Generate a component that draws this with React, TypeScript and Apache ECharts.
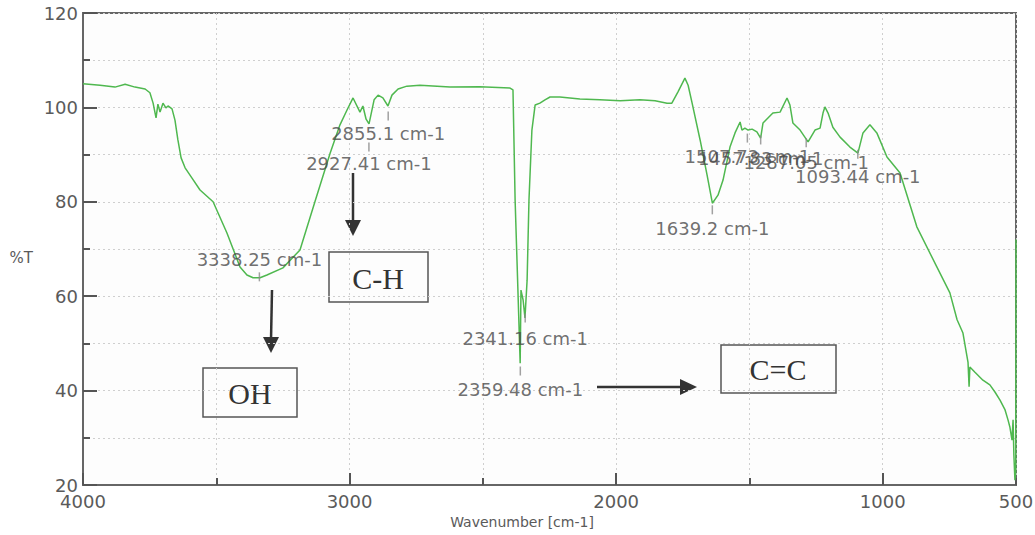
import React, { useEffect, useRef } from "react";
import * as echarts from "echarts";

// Spectrum trace (wavenumber in cm-1, transmittance in %T)
const spectrumWn = [
  4000, 3936, 3880, 3842, 3805, 3767, 3749, 3737, 3726, 3719, 3711, 3700, 3689, 3681, 3666, 3655,
  3644, 3632, 3617, 3591, 3561, 3512, 3460, 3411, 3385, 3362, 3336, 3310, 3250, 3186, 3130, 3073,
  3036, 3010, 2987, 2961, 2950, 2938, 2927, 2908, 2893, 2875, 2856, 2841, 2818, 2785, 2736, 2623,
  2511, 2398, 2387, 2379, 2372, 2360, 2357, 2349, 2342, 2334, 2327, 2316, 2304, 2286, 2267, 2248,
  2211, 2136, 2061, 1985, 1911, 1854, 1809, 1791, 1768, 1742, 1730, 1715, 1685, 1659, 1639, 1618,
  1599, 1573, 1554, 1535, 1528, 1517, 1505, 1490, 1472, 1458, 1449, 1412, 1385, 1359, 1348, 1337,
  1310, 1280, 1254, 1235, 1224, 1217, 1205, 1187, 1160, 1123, 1093, 1074, 1048, 1022, 984, 935,
  872, 797, 748, 721, 699, 680, 676, 673, 654, 624, 598, 579, 560, 541, 530, 523,
  515, 511, 508, 504, 501, 500,
];
const spectrumT = [
  105.0, 104.7, 104.3, 104.9, 104.3, 103.9, 103.1, 100.9, 97.8, 100.7, 99.0, 100.9, 99.9, 100.3, 99.7, 97.3,
  93.1, 89.3, 87.2, 85.0, 82.5, 80.0, 73.4, 66.2, 64.5, 63.9, 63.9, 64.5, 66.0, 69.8, 80.0, 90.3,
  96.3, 99.4, 102.0, 99.0, 100.3, 97.5, 96.5, 101.6, 102.6, 102.0, 100.3, 102.6, 103.9, 104.5, 104.7, 104.3,
  104.4, 104.1, 103.7, 80.4, 67.7, 45.8, 61.3, 59.2, 55.4, 63.4, 80.4, 95.2, 100.5, 100.9, 101.6, 102.2,
  102.2, 101.8, 101.6, 101.4, 101.6, 101.4, 100.9, 100.9, 103.3, 106.2, 104.7, 100.9, 93.1, 85.7, 79.7, 81.4,
  84.6, 91.6, 94.6, 96.9, 95.2, 95.6, 95.2, 95.4, 94.8, 93.5, 96.7, 98.8, 99.0, 102.0, 100.5, 96.7,
  95.2, 92.7, 95.2, 95.6, 98.8, 100.1, 98.8, 95.8, 93.7, 91.6, 90.3, 94.6, 96.3, 94.6, 89.5, 86.1,
  74.7, 66.2, 60.7, 55.0, 52.2, 46.0, 40.8, 45.0, 43.9, 42.2, 41.2, 39.7, 38.0, 35.9, 33.8, 32.3,
  29.5, 33.8, 26.4, 21.0, 23.0, 72.0,
];

// Peak picks
const peakWn = [3338.25, 2927.41, 2855.1, 2359.48, 2341.16, 1639.2, 1507.73, 1457.83, 1287.05, 1093.44];
const peakT = [64.1, 91.6, 98.2, 44.15, 55.4, 78.3, 93.5, 93.1, 92.5, 90.1];
const peakLabels = [
  "3338.25 cm-1", "2927.41 cm-1", "2855.1 cm-1", "2359.48 cm-1", "2341.16 cm-1",
  "1639.2 cm-1", "1507.73 cm-1", "1457.83 cm-1", "1287.05 cm-1", "1093.44 cm-1",
];
const peakLabelSide = ["top", "bottom", "bottom", "bottom", "bottom", "bottom", "bottom", "bottom", "bottom", "bottom"];
const peakLabelGap = [3, 2, 3, 4, 6, 4, 4, 4, 5, 8];

// Axis ticks
const xLabelValues = [4000, 3000, 2000, 1000, 500];
const xMajorTicks = [4000, 3000, 2000, 1000];

// Functional group annotations
const groupNames = ["OH", "C-H", "C=C"];

const GRAY = "#5a5a5a";
const SANS = "'DejaVu Sans', Verdana, sans-serif";
const SERIF = "'Liberation Serif', 'Times New Roman', serif";

export default function App() {
  const ref = useRef<HTMLDivElement>(null);

  useEffect(() => {
    if (!ref.current) return;
    const chart = echarts.init(ref.current, undefined, { renderer: "svg" });

    const lineData = spectrumWn.map((w, i) => [w, spectrumT[i]]);
    const peakData = peakWn.map((w, i) => ({
      value: [w, peakT[i]],
      label: {
        show: true,
        position: peakLabelSide[i],
        distance: peakLabelGap[i],
        formatter: peakLabels[i],
      },
    }));

    const boxStyle = { fill: "rgba(255,255,255,0)", stroke: "#555", lineWidth: 1.5 };
    const arrowLine = { stroke: "#333", lineWidth: 2.5 };
    const arrowHead = { fill: "#333" };
    const boxText = (x: number, y: number, t: string) => ({
      type: "text",
      x,
      y,
      style: {
        text: t,
        fill: "#333",
        font: `30px ${SERIF}`,
        textAlign: "center",
        textVerticalAlign: "middle",
      },
    });

    chart.setOption({
      animation: false,
      backgroundColor: "#ffffff",
      grid: {
        left: 83,
        right: 19,
        top: 13,
        bottom: 50,
        containLabel: false,
        outerBoundsMode: "none",
        show: true,
        borderColor: "#666",
        borderWidth: 2,
        backgroundColor: "#fdfdfd",
      },
      xAxis: [
        {
          type: "value",
          min: 500,
          max: 4000,
          interval: 500,
          inverse: true,
          name: "Wavenumber [cm-1]",
          nameLocation: "middle",
          nameGap: 28,
          nameTextStyle: {
            fontFamily: SANS,
            fontSize: 14,
            color: GRAY,
            padding: [0, 55, 0, 0],
          },
          axisLine: { show: true, lineStyle: { color: "#666", width: 2 } },
          axisTick: { show: true, inside: true, length: 7, lineStyle: { color: "#555", width: 2 } },
          axisLabel: {
            fontFamily: SANS,
            fontSize: 18,
            color: GRAY,
            margin: 7,
            formatter: (v: number) => (xLabelValues.includes(v) ? String(v) : ""),
          },
          splitLine: { show: true, lineStyle: { color: "#cfcfcf", type: [2, 3], width: 1 } },
        },
        {
          type: "value",
          min: 500,
          max: 4000,
          inverse: true,
          position: "bottom",
          axisLine: { show: false },
          axisLabel: { show: false },
          splitLine: { show: false },
          axisTick: {
            show: true,
            inside: true,
            length: 12,
            customValues: xMajorTicks,
            lineStyle: { color: "#555", width: 2 },
          },
        },
      ],
      yAxis: {
        type: "value",
        min: 20,
        max: 120,
        interval: 20,
        name: "%T",
        nameLocation: "middle",
        nameRotate: 0,
        nameGap: 50,
        nameTextStyle: {
          fontFamily: SANS,
          fontSize: 15,
          color: GRAY,
          verticalAlign: "top",
          lineHeight: 18,
        },
        axisLine: { show: true, lineStyle: { color: "#666", width: 2 } },
        axisTick: { show: true, inside: true, length: 14, lineStyle: { color: "#555", width: 2 } },
        minorTick: { show: true, splitNumber: 2, length: 7, lineStyle: { color: "#555", width: 2 } },
        axisLabel: { fontFamily: SANS, fontSize: 18, color: GRAY, margin: 5 },
        splitLine: { show: true, lineStyle: { color: "#cfcfcf", type: [2, 3], width: 1 } },
        minorSplitLine: { show: true, lineStyle: { color: "#cfcfcf", type: [2, 3], width: 1 } },
      },
      series: [
        {
          type: "line",
          name: "spectrum",
          data: lineData,
          showSymbol: false,
          symbol: "none",
          lineStyle: { color: "#4fb84f", width: 1.5 },
          z: 3,
        },
        {
          type: "scatter",
          name: "peaks",
          data: peakData,
          symbol: "rect",
          symbolSize: [1.5, 9],
          itemStyle: { color: "#8a8a8a" },
          label: {
            fontFamily: SANS,
            fontSize: 18,
            lineHeight: 20,
            color: "#4a4a4a",
          },
          z: 4,
        },
      ],
      graphic: [
        // OH
        { type: "rect", shape: { x: 203, y: 368, width: 94, height: 49 }, style: boxStyle },
        boxText(250, 393, groupNames[0]),
        { type: "line", shape: { x1: 272, y1: 290, x2: 271, y2: 340 }, style: arrowLine },
        { type: "polygon", shape: { points: [[263, 337], [279, 337], [271, 353]] }, style: arrowHead },
        // C-H
        { type: "rect", shape: { x: 329, y: 252, width: 99, height: 50 }, style: boxStyle },
        boxText(378, 278, groupNames[1]),
        { type: "line", shape: { x1: 353, y1: 173, x2: 353, y2: 222 }, style: arrowLine },
        { type: "polygon", shape: { points: [[345, 220], [361, 220], [353, 236]] }, style: arrowHead },
        // C=C
        { type: "rect", shape: { x: 721, y: 345, width: 115, height: 48 }, style: boxStyle },
        boxText(778, 369, groupNames[2]),
        { type: "line", shape: { x1: 597, y1: 387, x2: 682, y2: 387 }, style: arrowLine },
        { type: "polygon", shape: { points: [[680, 379], [680, 395], [697, 387]] }, style: arrowHead },
      ],
    });

    return () => chart.dispose();
  }, []);

  return (
    <div
      ref={ref}
      style={{ position: "fixed", left: 0, top: 0, width: 1035, height: 535, background: "#fff" }}
    />
  );
}
